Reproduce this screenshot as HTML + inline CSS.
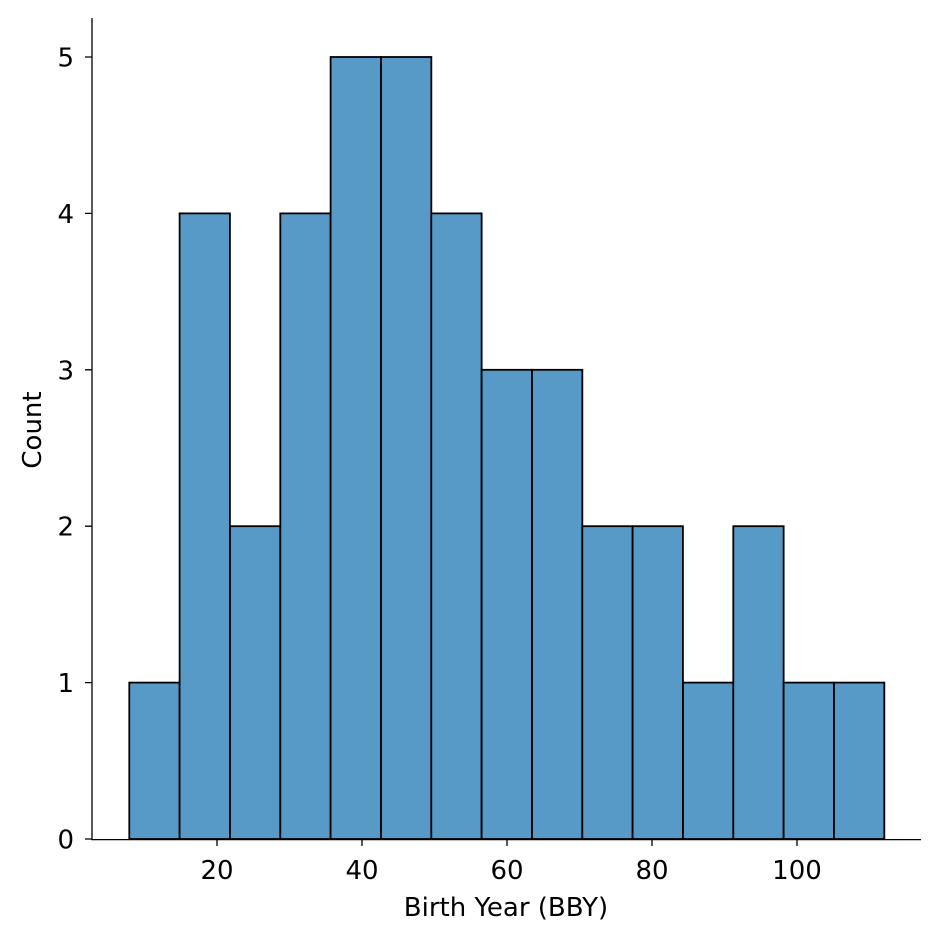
<!DOCTYPE html>
<html><head><meta charset="utf-8"><style>html,body{margin:0;padding:0;background:#fff}svg{display:block}</style></head><body>
<svg width="940" height="940" xmlns="http://www.w3.org/2000/svg" font-family="'DejaVu Sans','Liberation Sans',sans-serif" font-size="26" fill="#000">
<g fill="#5799c7" stroke="#000" stroke-width="1.8">
<rect x="129.3" y="682.6" width="50.33" height="156.4"/>
<rect x="179.6" y="213.4" width="50.33" height="625.6"/>
<rect x="230.0" y="526.2" width="50.33" height="312.8"/>
<rect x="280.3" y="213.4" width="50.33" height="625.6"/>
<rect x="330.6" y="57" width="50.33" height="782"/>
<rect x="381.0" y="57" width="50.33" height="782"/>
<rect x="431.3" y="213.4" width="50.33" height="625.6"/>
<rect x="481.6" y="369.8" width="50.33" height="469.2"/>
<rect x="532.0" y="369.8" width="50.33" height="469.2"/>
<rect x="582.3" y="526.2" width="50.33" height="312.8"/>
<rect x="632.6" y="526.2" width="50.33" height="312.8"/>
<rect x="683.0" y="682.6" width="50.33" height="156.4"/>
<rect x="733.3" y="526.2" width="50.33" height="312.8"/>
<rect x="783.6" y="682.6" width="50.33" height="156.4"/>
<rect x="834.0" y="682.6" width="50.33" height="156.4"/>
</g>
<g stroke="#000" stroke-width="1.3" fill="none">
<path d="M92 18V839.6H921"/>
<path d="M85 839H92M85 682.6H92M85 526.2H92M85 369.8H92M85 213.4H92M85 57H92"/>
<path d="M217 839V846M362 839V846M507 839V846M652 839V846M797 839V846"/>
</g>
<g text-anchor="end" font-size="26">
<text x="74" y="848.5">0</text><text x="74" y="692">1</text><text x="74" y="535.7">2</text>
<text x="74" y="379.3">3</text><text x="74" y="222.9">4</text><text x="74" y="66.5">5</text>
</g>
<g text-anchor="middle" font-size="26">
<text x="217" y="879">20</text><text x="362" y="879">40</text><text x="507" y="879">60</text>
<text x="652" y="879">80</text><text x="797" y="879">100</text>
<text x="506" y="916">Birth Year (BBY)</text>
<text transform="translate(41,430) rotate(-90)">Count</text>
</g>
</svg>
</body></html>
